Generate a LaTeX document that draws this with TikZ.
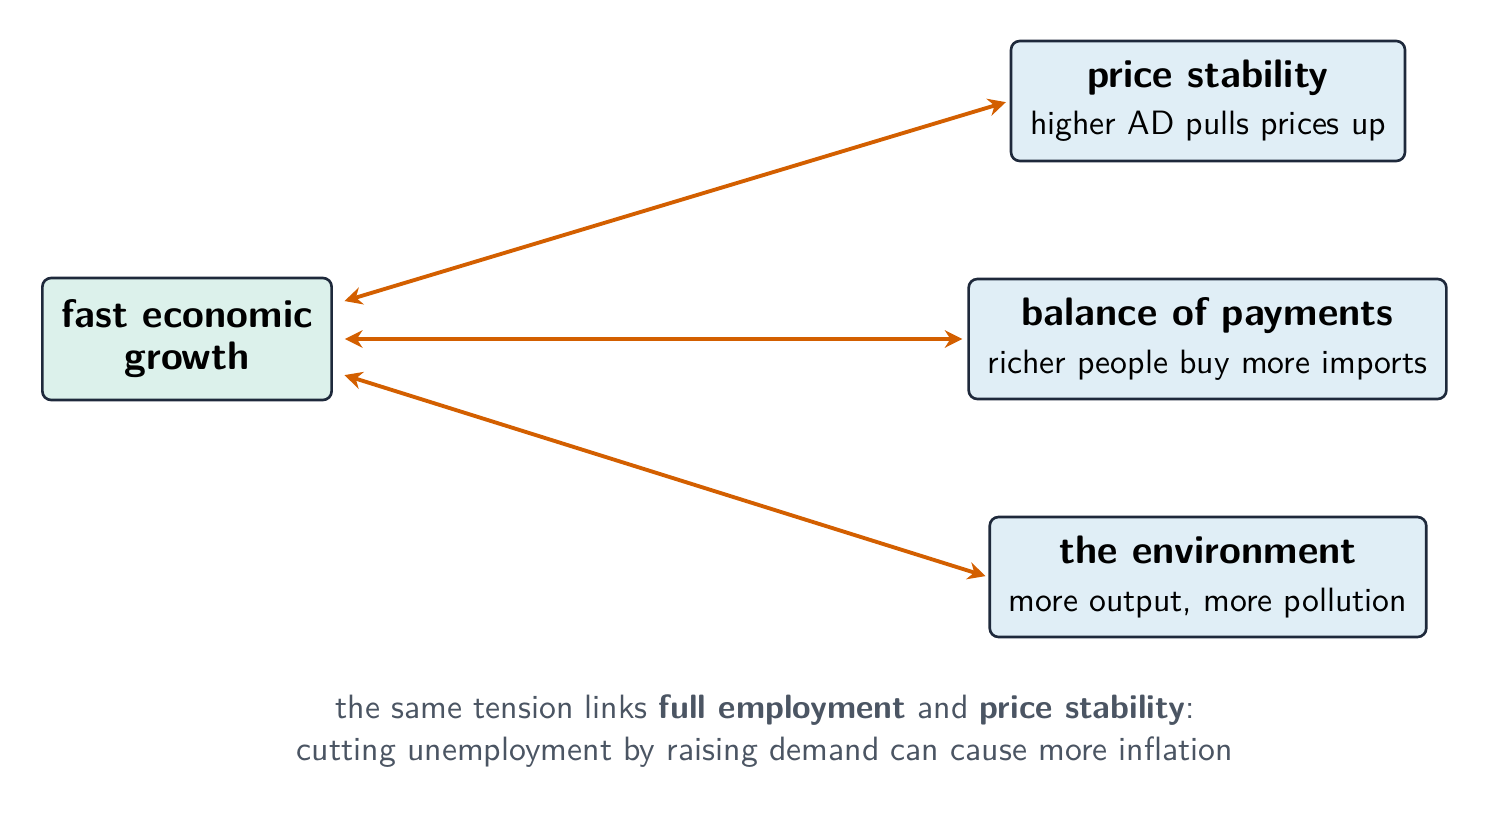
\documentclass[tikz,border=0pt]{standalone}
\usepackage{fontspec}
\renewcommand{\familydefault}{\sfdefault}
\usetikzlibrary{arrows.meta}

\definecolor{boxline}{HTML}{1E293B}
\definecolor{goalfill}{HTML}{DCF1EB}
\definecolor{aimfill}{HTML}{E0EEF6}
\definecolor{tradeoff}{HTML}{D35F00}
\definecolor{notegray}{HTML}{4B5563}

\tikzstyle{goal} = [draw=boxline,line width=0.75pt,rounded corners=2.5pt,fill=goalfill,align=center,inner xsep=0.19cm,minimum height=1.22cm,font=\fontsize{11.3}{12}\selectfont\bfseries]
\tikzstyle{aim} = [goal,fill=aimfill,minimum height=1.2cm,font=\fontsize{9.6}{13.4}\selectfont]
\tikzstyle{link} = [{Stealth[length=5pt,width=5pt]}-{Stealth[length=5pt,width=5pt]},draw=tradeoff,line width=1.1pt]

\begin{document}
\begin{tikzpicture}
	\useasboundingbox (0,0) rectangle (14.9,-8.2);
	\node[goal] (growth) at (1.87,-3.39) {fast economic\\growth};
	\node[aim] (price) at (12.08,-1.01) {{\fontsize{11.3}{12}\selectfont\bfseries price stability}\\higher AD pulls prices up};
	\node[aim] (bop) at (12.075,-3.39) {{\fontsize{11.3}{12}\selectfont\bfseries balance of payments}\\richer people buy more imports};
	\node[aim] (env) at (12.08,-5.77) {{\fontsize{11.3}{12}\selectfont\bfseries the environment}\\more output, more pollution};
	
	\draw[link,shorten <=0.12cm,shorten >=0.04cm] ([yshift=0.345cm]growth.east) -- (price.west);
	\draw[link,shorten <=0.12cm,shorten >=0.05cm] (growth.east) -- (bop.west);
	\draw[link,shorten <=0.12cm,shorten >=0.03cm] ([yshift=-0.325cm]growth.east) -- (env.west);
	
	\node[text=notegray,align=center,font=\fontsize{9.6}{12}\selectfont] (note) at (7.65,-7.31) {the same tension links \textbf{full employment} and \textbf{price stability}:\\cutting unemployment by raising demand can cause more inflation};
\end{tikzpicture}
\end{document}
